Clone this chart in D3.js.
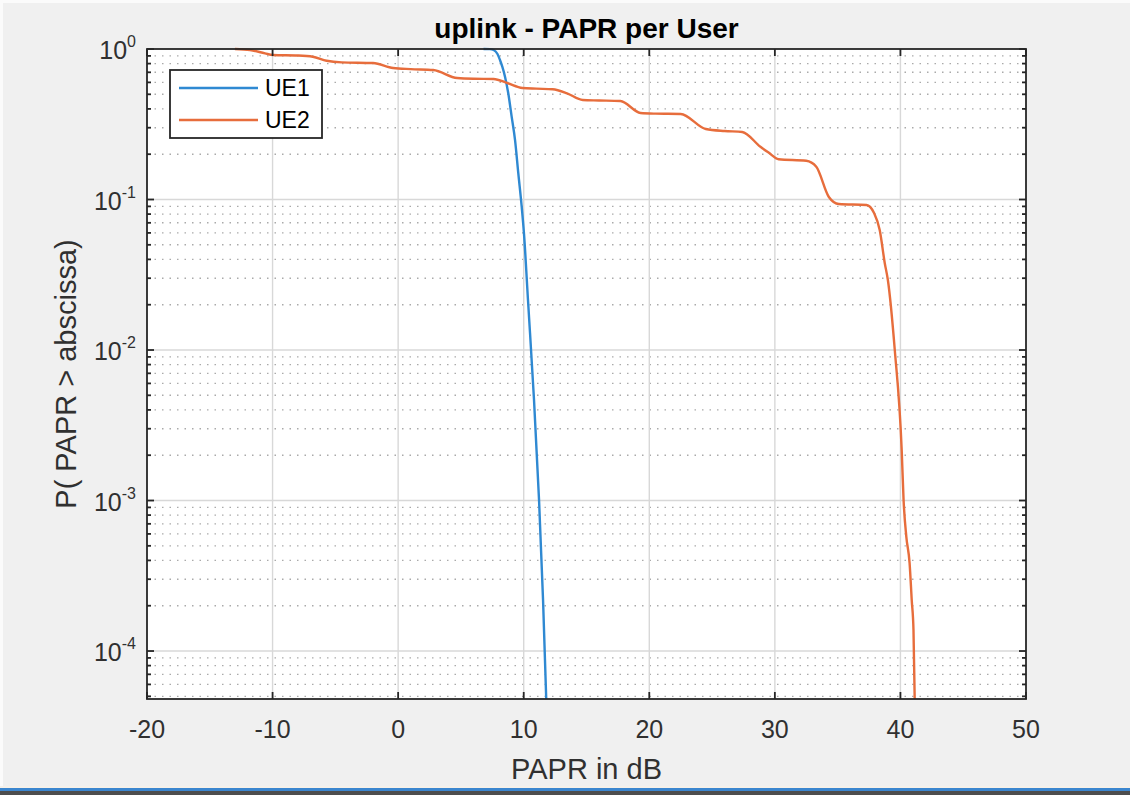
<!DOCTYPE html>
<html>
<head>
<meta charset="utf-8">
<script src="https://cdn.jsdelivr.net/npm/d3@7"></script>
<style>
  html, body { margin: 0; padding: 0; background: #f0f0f0; }
  svg { display: block; font-family: "Liberation Sans", Arial, Helvetica, sans-serif; }
</style>
</head>
<body>
<svg id="chart" width="1130" height="795"></svg>
<script>
// PAPR complementary CDF per user (dB, probability)
const ue1PaprDb = [6.8, 7.3, 7.6, 7.9, 8.11, 8.3, 8.51, 8.77, 9.04, 9.31, 9.57, 9.84, 10.02, 10.34, 10.82, 11.22, 11.54, 11.8];
const ue1Ccdf   = [1.0, 0.998, 0.985, 0.93, 0.845, 0.76, 0.655, 0.508, 0.355, 0.248, 0.149, 0.0895, 0.0596, 0.0215, 0.00466, 0.00101, 0.000218, 0.000046];

const ue2PaprDb = [-13.0, -11.8, -10.6, -9.97, -8.0, -6.8, -5.7, -4.5, -2.0, -0.4, 1.0, 2.8, 4.7, 6.0, 7.6, 8.7, 9.9, 11.0, 12.3, 13.45, 14.7, 16.0, 17.7, 19.3, 20.5, 22.5, 24.5, 26.0, 27.4, 28.85, 29.5, 30.3, 32.5, 33.3, 34.3, 35.1, 37.3, 37.9, 38.35, 38.75, 39.0, 39.55, 40.1, 40.25, 40.47, 40.73, 40.9, 41.04, 41.14];
const ue2Ccdf   = [1.0, 0.985, 0.935, 0.912, 0.905, 0.889, 0.836, 0.815, 0.807, 0.748, 0.735, 0.725, 0.641, 0.634, 0.632, 0.594, 0.551, 0.545, 0.540, 0.508, 0.458, 0.455, 0.451, 0.376, 0.372, 0.370, 0.294, 0.285, 0.281, 0.224, 0.205, 0.185, 0.181, 0.165, 0.104, 0.0933, 0.0919, 0.0813, 0.0627, 0.0379, 0.0292, 0.0100, 0.00217, 0.00101, 0.000574, 0.000384, 0.000218, 0.000138, 0.000046];

const seriesNames  = ["UE1", "UE2"];
const seriesColors = ["#2f89d2", "#e76d3c"];

const xTicks = [-20, -10, 0, 10, 20, 30, 40, 50];
const yDecades = [0, -1, -2, -3, -4];
const xDomain = [-20, 50];
const yDomain = [4.8e-5, 1];

const titleText  = "uplink - PAPR per User";
const xLabelText = "PAPR in dB";
const yLabelText = "P( PAPR > abscissa)";

const svg = d3.select("#chart");
const W = 1130, H = 795;
const plot = { left: 147, right: 1026, top: 49, bottom: 699 };

// window chrome
svg.append("rect").attr("width", W).attr("height", H).attr("fill", "#f0f0f0");
svg.append("rect").attr("x", 0).attr("y", 0).attr("width", W).attr("height", 3).attr("fill", "#fbfbfb");
svg.append("rect").attr("x", 0).attr("y", 0).attr("width", 3).attr("height", 786).attr("fill", "#fbfbfb");
svg.append("rect").attr("x", 0).attr("y", 786).attr("width", W).attr("height", 2).attr("fill", "#f6f1ea");
svg.append("rect").attr("x", 0).attr("y", 788).attr("width", W).attr("height", 3).attr("fill", "#3b86cf");
svg.append("rect").attr("x", 0).attr("y", 791).attr("width", W).attr("height", 4).attr("fill", "#4d4d4d");

const x = d3.scaleLinear().domain(xDomain).range([plot.left, plot.right]);
const y = d3.scaleLog().domain(yDomain).range([plot.bottom, plot.top]);

// axes background
svg.append("rect")
  .attr("x", plot.left).attr("y", plot.top)
  .attr("width", plot.right - plot.left).attr("height", plot.bottom - plot.top)
  .attr("fill", "#ffffff");

const grid = svg.append("g");

// minor log grid (dotted)
const minorVals = [];
for (let e = -5; e <= 0; e++) {
  for (let m = 2; m <= 9; m++) {
    const v = m * Math.pow(10, e);
    if (v > yDomain[0] && v < yDomain[1]) minorVals.push(v);
  }
}
grid.selectAll("line.minor").data(minorVals).join("line")
  .attr("class", "minor")
  .attr("x1", plot.left).attr("x2", plot.right)
  .attr("y1", d => y(d)).attr("y2", d => y(d))
  .attr("stroke", "#aaaaaa").attr("stroke-width", 1.4)
  .attr("stroke-dasharray", "1.5,6");

// major grid
grid.selectAll("line.vx").data(xTicks.slice(1, -1)).join("line")
  .attr("x1", d => x(d)).attr("x2", d => x(d))
  .attr("y1", plot.top).attr("y2", plot.bottom)
  .attr("stroke", "#d8d8d8").attr("stroke-width", 1.4);
grid.selectAll("line.hy").data(yDecades.slice(1)).join("line")
  .attr("x1", plot.left).attr("x2", plot.right)
  .attr("y1", d => y(Math.pow(10, d))).attr("y2", d => y(Math.pow(10, d)))
  .attr("stroke", "#d8d8d8").attr("stroke-width", 1.4);

// curves
svg.append("clipPath").attr("id", "plotClip")
  .append("rect")
  .attr("x", plot.left).attr("y", plot.top - 2)
  .attr("width", plot.right - plot.left).attr("height", plot.bottom - plot.top + 2);

const line = d3.line()
  .x(d => x(d[0]))
  .y(d => y(d[1]))
  .curve(d3.curveMonotoneX);

const series = [
  d3.zip(ue1PaprDb, ue1Ccdf),
  d3.zip(ue2PaprDb, ue2Ccdf)
];

const curves = svg.append("g").attr("clip-path", "url(#plotClip)");
series.forEach((pts, i) => {
  curves.append("path")
    .datum(pts)
    .attr("d", line)
    .attr("fill", "none")
    .attr("stroke", seriesColors[i])
    .attr("stroke-width", 2.4)
    .attr("stroke-linejoin", "round");
});

// axes box and ticks
const axisColor = "#262626";
const ax = svg.append("g");
ax.append("rect")
  .attr("x", plot.left).attr("y", plot.top)
  .attr("width", plot.right - plot.left).attr("height", plot.bottom - plot.top)
  .attr("fill", "none").attr("stroke", axisColor).attr("stroke-width", 1.8);

// x ticks: inward on bottom and top
ax.selectAll("line.xtb").data(xTicks).join("line")
  .attr("x1", d => x(d)).attr("x2", d => x(d))
  .attr("y1", plot.bottom).attr("y2", plot.bottom - 7)
  .attr("stroke", axisColor).attr("stroke-width", 1.8);
ax.selectAll("line.xtt").data(xTicks).join("line")
  .attr("x1", d => x(d)).attr("x2", d => x(d))
  .attr("y1", plot.top).attr("y2", plot.top + 7)
  .attr("stroke", axisColor).attr("stroke-width", 1.8);

// y ticks: major decades and minor
const yMajorVals = yDecades.map(e => Math.pow(10, e));
[plot.left, plot.right].forEach((xe, side) => {
  const dir = side === 0 ? 1 : -1;
  ax.selectAll(null).data(yMajorVals).join("line")
    .attr("x1", xe).attr("x2", xe + dir * 7)
    .attr("y1", d => y(d)).attr("y2", d => y(d))
    .attr("stroke", axisColor).attr("stroke-width", 1.8);
  ax.selectAll(null).data(minorVals).join("line")
    .attr("x1", xe).attr("x2", xe + dir * 4)
    .attr("y1", d => y(d)).attr("y2", d => y(d))
    .attr("stroke", axisColor).attr("stroke-width", 1.8);
});

// tick labels
const labelColor = "#303030";
ax.selectAll("text.xl").data(xTicks).join("text")
  .attr("x", d => x(d)).attr("y", 738)
  .attr("text-anchor", "middle")
  .attr("font-size", 25)
  .attr("fill", labelColor)
  .text(d => d);

yDecades.forEach(e => {
  const t = ax.append("text")
    .attr("x", 136).attr("y", y(Math.pow(10, e)) + 10)
    .attr("text-anchor", "end")
    .attr("font-size", 25)
    .attr("fill", labelColor);
  t.append("tspan").text("10");
  t.append("tspan").attr("dy", -12).attr("font-size", 16).text(String(e));
});

// titles
svg.append("text")
  .attr("x", (plot.left + plot.right) / 2).attr("y", 38)
  .attr("text-anchor", "middle")
  .attr("font-size", 28).attr("font-weight", "bold")
  .attr("fill", "#000")
  .text(titleText);

svg.append("text")
  .attr("x", (plot.left + plot.right) / 2).attr("y", 779)
  .attr("text-anchor", "middle")
  .attr("font-size", 29)
  .attr("fill", labelColor)
  .text(xLabelText);

svg.append("text")
  .attr("transform", `translate(76, ${(plot.top + plot.bottom) / 2}) rotate(-90)`)
  .attr("text-anchor", "middle")
  .attr("font-size", 29)
  .attr("fill", labelColor)
  .text(yLabelText);

// legend
const lg = svg.append("g").attr("transform", "translate(170, 70)");
lg.append("rect")
  .attr("width", 152).attr("height", 68)
  .attr("fill", "#ffffff").attr("stroke", axisColor).attr("stroke-width", 1.8);
seriesNames.forEach((name, i) => {
  const yy = 18 + i * 32;
  lg.append("line")
    .attr("x1", 9).attr("x2", 88)
    .attr("y1", yy).attr("y2", yy)
    .attr("stroke", seriesColors[i]).attr("stroke-width", 2.4);
  lg.append("text")
    .attr("x", 95).attr("y", yy + 8)
    .attr("font-size", 23)
    .attr("fill", "#000")
    .text(name);
});
</script>
</body>
</html>
